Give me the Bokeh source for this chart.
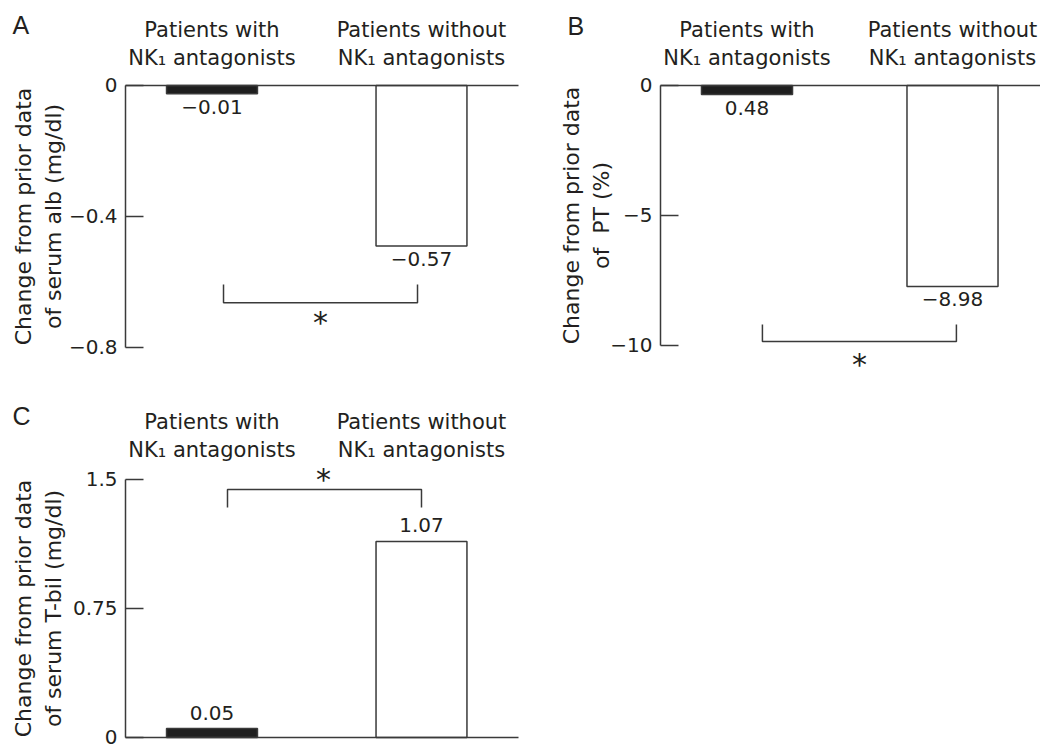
from bokeh.plotting import figure
from bokeh.models import (Range1d, FixedTicker, Label, LabelSet, ColumnDataSource,
                          CustomJSTickFormatter, LinearAxis)
from bokeh.layouts import column, row
from bokeh.core.properties import value
from bokeh.embed import file_html
from bokeh.resources import INLINE

# ---------------- data ----------------
groups = ["Patients with\nNK\u2081 antagonists", "Patients without\nNK\u2081 antagonists"]
group_pos = [1, 2]

# Panel A: serum albumin (bar extents as drawn in the figure, printed values as labels)
a_bars = [-0.025, -0.49]
a_value_labels = ["\u22120.01", "\u22120.57"]
a_ticks = [0, -0.4, -0.8]
a_tick_labels = ["0", "\u22120.4", "\u22120.8"]
a_ylabel = "Change from prior data\nof serum alb (mg/dl)"

# Panel B: PT
b_bars = [-0.35, -7.73]
b_value_labels = ["0.48", "\u22128.98"]
b_ticks = [0, -5, -10]
b_tick_labels = ["0", "\u22125", "\u221210"]
b_ylabel = "Change from prior data\nof \u00a0PT (%)"

# Panel C: serum T-bil
c_bars = [0.052, 1.14]
c_value_labels = ["0.05", "1.07"]
c_ticks = [0, 0.75, 1.5]
c_tick_labels = ["0", "0.75", "1.5"]
c_ylabel = "Change from prior data\nof serum T-bil (mg/dl)"

bar_colors = ["#1e1e1e", "#ffffff"]

TXT = "#231f20"
LINE = "#3a3a3a"
FONT = "DejaVu Sans"


def fmt(ticks, labels):
    return CustomJSTickFormatter(
        args=dict(tk=list(ticks), lb=list(labels)),
        code="const i = tk.findIndex(t => Math.abs(t - tick) < 1e-9); return i >= 0 ? lb[i] : '';",
    )


def make_panel(w, h, xr, yr, axis_x, x_end, ticks, tick_labels, ylabel, ylab_standoff,
               cat_y, cat_size, cat_standoff, zero_on_top,
               bars, value_labels, label_offset, bar_width):
    p = figure(width=w, height=h, x_range=Range1d(*xr), y_range=Range1d(*yr),
               min_border=0, min_border_left=0, min_border_right=0,
               min_border_top=0, min_border_bottom=0,
               x_axis_location="above", toolbar_location=None, output_backend="svg",
               background_fill_color="white", border_fill_color="white")
    p.outline_line_color = None
    p.grid.visible = False

    # category axis (above), pinned at the zero line / top of the value axis
    xa = p.xaxis[0]
    xa.fixed_location = cat_y
    xa.bounds = (axis_x, x_end)
    xa.ticker = FixedTicker(ticks=group_pos)
    xa.formatter = fmt(group_pos, groups)
    xa.major_tick_line_color = None
    xa.minor_tick_line_color = None
    xa.axis_line_color = LINE if zero_on_top else None
    xa.axis_line_width = 1.5
    xa.major_label_text_font = FONT
    xa.major_label_text_font_size = cat_size
    xa.major_label_text_color = TXT
    xa.major_label_standoff = cat_standoff

    # value axis (left), pinned at its position inside the canvas
    ya = p.yaxis[0]
    ya.fixed_location = axis_x
    ya.bounds = (min(ticks), max(ticks))
    ya.ticker = FixedTicker(ticks=ticks)
    ya.formatter = fmt(ticks, tick_labels)
    ya.major_tick_in = 18
    ya.major_tick_out = 0
    ya.minor_tick_line_color = None
    ya.major_tick_line_color = LINE
    ya.major_tick_line_width = 1.5
    ya.axis_line_color = LINE
    ya.axis_line_width = 1.5
    ya.major_label_text_font = FONT
    ya.major_label_text_font_size = "20px"
    ya.major_label_text_color = TXT
    ya.major_label_standoff = 8
    ya.axis_label = ylabel
    ya.axis_label_text_font = FONT
    ya.axis_label_text_font_size = "22px"
    ya.axis_label_text_font_style = "normal"
    ya.axis_label_text_color = TXT
    ya.axis_label_standoff = ylab_standoff

    if not zero_on_top:
        za = LinearAxis(fixed_location=0, bounds=(axis_x, x_end), ticker=FixedTicker(ticks=[]),
                        axis_line_color=LINE, axis_line_width=1.5,
                        major_tick_line_color=None, minor_tick_line_color=None,
                        major_label_text_font_size="0px")
        p.add_layout(za, "below")

    src = ColumnDataSource(dict(x=group_pos, v=bars, lab=value_labels, color=bar_colors))
    p.vbar(x="x", top=0, bottom="v", width=bar_width, fill_color="color",
           line_color=LINE, line_width=1.5, source=src)
    p.add_layout(LabelSet(x="x", y="v", text="lab", source=src, y_offset=label_offset,
                          text_align="center", text_baseline="alphabetic",
                          text_font=value(FONT), text_font_size=value("20px"),
                          text_color=TXT))
    return p


def star(p, x, y):
    p.add_layout(Label(x=x, y=y, text="*", text_align="center", text_font=FONT,
                       text_font_size="30px", text_color=TXT))


def letter(p, x, y, t):
    p.add_layout(Label(x=x, y=y, text=t, text_align="left", text_font="Liberation Sans",
                       text_font_size="25px", text_color=TXT))


# ---------------- Panel A ----------------
pA = make_panel(520, 390, (-0.00955, 2.4726), (-0.9313, 0.2595), 0.5871, 2.463,
                a_ticks, a_tick_labels, a_ylabel, 0,
                0, "21px", 9, True,
                a_bars, a_value_labels, -20, 0.434)
pA.line([1.055, 1.055, 1.981, 1.981], [-0.608, -0.663, -0.663, -0.608], line_color=LINE, line_width=1.5)
star(pA, 1.518, -0.777)
letter(pA, 0.0477, 0.1405, "A")

# ---------------- Panel B ----------------
pB = make_panel(520, 390, (-0.1022, 2.4282), (-11.731, 3.269), 0.5791, 2.4282,
                b_ticks, b_tick_labels, b_ylabel, -7,
                0, "21px", 9, True,
                b_bars, b_value_labels, -20, 0.443)
pB.line([1.075, 1.075, 2.019, 2.019], [-9.19, -9.85, -9.85, -9.19], line_color=LINE, line_width=1.5)
star(pB, 1.547, -11.40)
letter(pB, 0.1265, 1.769, "B")

# ---------------- Panel C ----------------
pC = make_panel(520, 354, (-0.00955, 2.4726), (-0.0407, 2.0174), 0.5871, 2.463,
                c_ticks, c_tick_labels, c_ylabel, 4,
                1.5, "21px", 11, False,
                c_bars, c_value_labels, 9, 0.434)
pC.line([1.074, 1.074, 2.0, 2.0], [1.3372, 1.4419, 1.4419, 1.3372], line_color=LINE, line_width=1.5)
star(pC, 1.532, 1.3983)
letter(pC, 0.0477, 1.787, "C")

layout = column(row(pA, pB), pC)
open("out.html", "w").write(file_html(layout, INLINE))
